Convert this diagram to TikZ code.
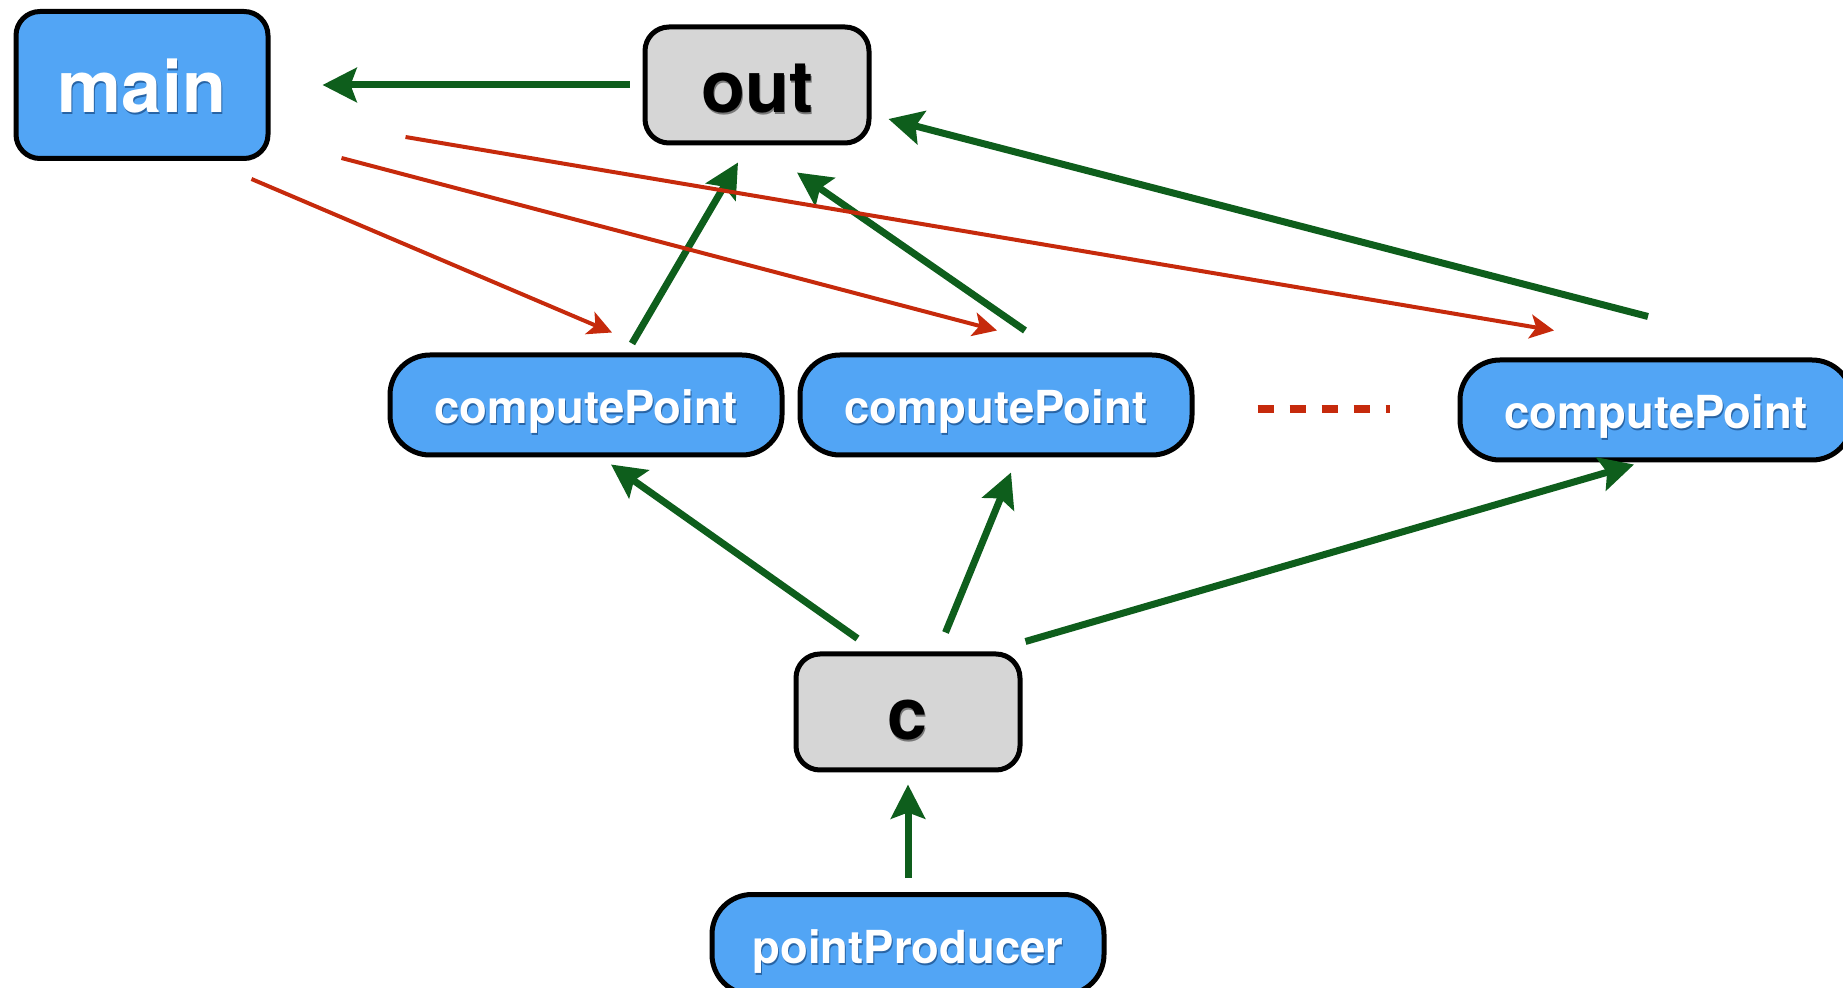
\documentclass[tikz,border=0pt]{standalone}
\usepackage{fontspec}
\setmainfont{TeX Gyre Heros}
\usetikzlibrary{positioning, arrows.meta}
\definecolor{taskblue}{RGB}{82,165,245}
\definecolor{taskshade}{RGB}{40,100,165}
\definecolor{changray}{RGB}{214,214,214}
\definecolor{chanshade}{RGB}{120,120,120}
\definecolor{sendgreen}{RGB}{14,94,28}
\definecolor{spawnred}{RGB}{198,42,12}
\newcommand{\shadowed}[2]{\makebox[0pt][l]{\raisebox{-1pt}{\hspace{0.5pt}\textcolor{#1}{#2}}}#2}
\tikzset{
  task/.style={draw, line width=2.5pt, rounded corners=20pt, fill=taskblue, text=white,
    font=\bfseries\fontsize{22.75}{26}\selectfont, text height=18.6pt, text depth=0pt,
    minimum width=196pt, minimum height=50pt},
  bigtask/.style={task, rounded corners=12pt, font=\bfseries\fontsize{36}{40}\selectfont,
    text height=28pt, minimum width=126pt, minimum height=73.5pt},
  chan/.style={draw, line width=2.5pt, rounded corners=12pt, fill=changray,
    font=\bfseries\fontsize{36}{40}\selectfont, text height=28pt, text depth=0pt,
    minimum width=112pt, minimum height=58pt},
  send/.style={line width=3.5pt, draw=sendgreen, -{Stealth[length=17pt,width=17pt,inset=3pt]}},
  spawn/.style={line width=2pt, draw=spawnred, -{Stealth[length=12pt,width=12pt,inset=3pt]}},
  more/.style={line width=4pt, draw=spawnred, dash pattern=on 8pt off 8pt},
}

\begin{document}
\begin{tikzpicture}[x=0.5pt, y=-0.5pt]
  \useasboundingbox (0,0) rectangle (1843,988);

  \node[bigtask] (main) at (142,85) {\shadowed{taskshade}{main}};
  \node[chan] (out) at (757,85) {\shadowed{chanshade}{out}};
  \node[task] (cp1) at (586,405) {\shadowed{taskshade}{computePoint}};
  \node[task,right=6.5pt of cp1] (cp2) {\shadowed{taskshade}{computePoint}};
  \node[task] (cp3) at (1656,410) {\shadowed{taskshade}{computePoint}};
  \node[chan] (c) at (908,712) {\shadowed{chanshade}{c}};
  \node[task,below=59.75pt of c] (pp) {\shadowed{taskshade}{pointProducer}};

  % values going into the channels
  \draw[send] ([xshift=-6.5pt]out.west) -- ([xshift=26pt]main.east);
  \draw[send] ([xshift=23pt,yshift=4.5pt]cp1.north) -- ([xshift=-9.5pt,yshift=-8.5pt]out.south);
  \draw[send] ([xshift=14.5pt,yshift=11pt]cp2.north) -- ([xshift=20pt,yshift=-13.5pt]out.south);
  \draw[send] ([xshift=-4pt,yshift=20.5pt]cp3.north) -- ([xshift=8.5pt,yshift=-17pt]out.east);
  \draw[send] ([xshift=-25.25pt,yshift=6.5pt]c.north) -- ([xshift=12.5pt,yshift=-3.5pt]cp1.south);
  \draw[send] ([xshift=18.75pt,yshift=9.5pt]c.north) -- ([xshift=7.5pt,yshift=-7.5pt]cp2.south);
  \draw[send] ([xshift=1.5pt,yshift=5pt]c.north east) -- ([xshift=-11pt,yshift=-1pt]cp3.south);
  \draw[send] ([yshift=7pt]pp.north) -- ([yshift=-6pt]c.south);

  % goroutines started by main
  \draw[spawn] ([xshift=-9.5pt,yshift=-9pt]main.south east) -- ([xshift=13pt,yshift=10pt]cp1.north);
  \draw[spawn] ([xshift=35.5pt,yshift=1.5pt]main.south east) -- ([xshift=0.5pt,yshift=11pt]cp2.north);
  \draw[spawn] ([xshift=67.5pt,yshift=12pt]main.south east) -- ([xshift=-51pt,yshift=13.5pt]cp3.north);

  \draw[more] (cp2.east) ++(31.5pt,-2pt) -- ++(66pt,0pt);
\end{tikzpicture}
\end{document}
